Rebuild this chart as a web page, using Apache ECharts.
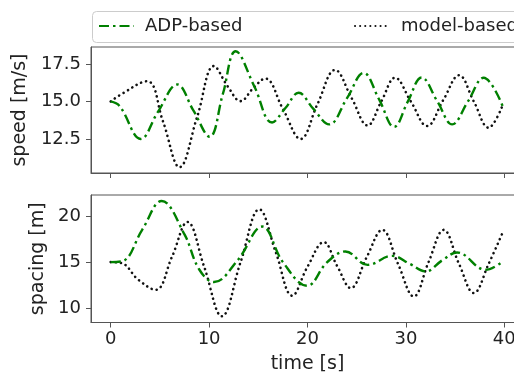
<!DOCTYPE html>
<html>
<head>
<meta charset="utf-8">
<script src="https://cdn.jsdelivr.net/npm/echarts@6/dist/echarts.min.js"></script>
<style>
html,body{margin:0;padding:0;background:#fff;}
#chart{width:514px;height:377px;}
</style>
</head>
<body>
<div id="chart"></div>
<script>
// ---- data ----
const xTicks = [0, 10, 20, 30, 40];
const speedTicks = [12.5, 15, 17.5];
const spacingTicks = [10, 15, 20];

const adpSpeedT = [0, 0.9, 3.05, 4.8, 6.77, 8.4, 10.05, 11.4, 12.7, 14.6, 16.4, 17.8, 19.1, 20.6, 22.2, 24.0, 25.7, 27.3, 28.8, 30.2, 31.6, 33.2, 34.7, 36.3, 37.9, 39.9];
const adpSpeedV = [15.0, 14.7, 12.5, 14.3, 16.13, 14.4, 12.65, 15.5, 18.35, 16.0, 13.6, 14.6, 15.58, 14.5, 13.47, 15.2, 16.9, 15.1, 13.3, 15.0, 16.6, 15.0, 13.47, 15.0, 16.58, 14.58];

const modelSpeedT = [0, 1.0, 3.7, 5.3, 7.0, 8.8, 10.5, 11.9, 13.2, 14.5, 15.7, 17.5, 19.3, 21.0, 22.8, 24.5, 26.1, 27.5, 28.9, 30.5, 32.15, 33.8, 35.4, 36.9, 38.4, 39.8];
const modelSpeedV = [15.0, 15.45, 16.35, 13.7, 10.62, 14.0, 17.36, 16.0, 15.02, 15.9, 16.53, 14.5, 12.5, 14.8, 17.1, 15.2, 13.4, 15.0, 16.58, 15.0, 13.36, 15.1, 16.75, 15.0, 13.25, 14.7];

const adpSpacingT = [0, 1.2, 3.2, 5.18, 7.5, 9.0, 10.5, 12.9, 15.4, 17.5, 19.97, 22.0, 23.85, 26.1, 28.6, 30.4, 32.0, 33.7, 35.2, 38.1, 39.85];
const adpSpacingV = [15.0, 15.1, 18.5, 21.62, 18.0, 14.2, 12.84, 15.2, 18.85, 15.0, 12.44, 15.0, 16.15, 14.7, 15.68, 14.8, 13.99, 15.2, 16.04, 14.17, 15.07];

const modelSpacingT = [0, 1.1, 2.8, 4.57, 6.2, 7.8, 9.5, 11.3, 13.2, 15.1, 16.8, 18.45, 20.0, 21.65, 23.0, 24.4, 26.0, 27.6, 29.2, 30.8, 32.3, 33.84, 35.4, 36.9, 38.4, 39.87];
const modelSpacingV = [15.0, 14.9, 13.1, 12.0, 15.5, 19.35, 14.5, 9.13, 15.0, 20.72, 16.0, 11.36, 14.5, 17.16, 14.6, 12.19, 15.5, 18.49, 14.8, 11.28, 15.0, 18.49, 14.8, 11.65, 14.8, 18.3];

const pairs = (t, v) => t.map((x, i) => [x, v[i]]);

const FONT = 'DejaVu Sans';
const frameColor = '#555';
const textColor = '#222';

const greenStyle = { color: '#008000', width: 2.4, type: [10, 4, 2.5, 4], cap: 'butt' };
const blackStyle = { color: '#111', width: 2.6, type: [0.1, 5], cap: 'round' };

function xAxis(gridIndex, withLabels) {
  return {
    type: 'value', gridIndex, min: -2, max: 42,
    axisLine: { show: true, onZero: false, lineStyle: { color: frameColor, width: 1 } },
    axisTick: { show: true, length: 5, customValues: xTicks, lineStyle: { color: frameColor } },
    axisLabel: withLabels ? { show: true, customValues: xTicks, margin: 8, fontSize: 18, color: textColor, fontFamily: FONT } : { show: false },
    splitLine: { show: false },
    name: withLabels ? 'time [s]' : '',
    nameLocation: 'middle', nameGap: 32,
    nameTextStyle: { fontSize: 19, color: textColor, fontFamily: FONT }
  };
}
function yAxis(gridIndex, min, max, ticks, name, gap, fmt) {
  return {
    type: 'value', gridIndex, min, max,
    axisLine: { show: true, onZero: false, lineStyle: { color: frameColor, width: 1 } },
    axisTick: { show: true, length: 5, customValues: ticks, lineStyle: { color: frameColor } },
    axisLabel: { customValues: ticks, margin: 10, fontSize: 18, color: textColor, fontFamily: FONT, formatter: fmt },
    splitLine: { show: false },
    name, nameLocation: 'middle', nameRotate: 90, nameGap: gap,
    nameTextStyle: { fontSize: 19, color: textColor, fontFamily: FONT }
  };
}
function legend(name, left) {
  return {
    data: [name], left, top: 17, padding: 0,
    itemWidth: 35, itemHeight: 18,
    itemStyle: { color: 'rgba(0,0,0,0)', borderColor: 'rgba(0,0,0,0)', borderWidth: 0 },
    textStyle: { fontSize: 18, color: textColor, fontFamily: FONT, padding: [0, 0, 0, 6] },
    selectedMode: false, z: 5
  };
}

const chart = echarts.init(document.getElementById('chart'), null, { renderer: 'canvas' });
chart.setOption({
  backgroundColor: '#fff',
  animation: false,
  graphic: [{
    type: 'rect', left: 92, top: 11, z: 1,
    shape: { width: 440, height: 31, r: 4 },
    style: { fill: '#fff', stroke: '#ccc', lineWidth: 1 }
  }],
  legend: [legend('ADP-based', 98), legend('model-based', 354)],
  grid: [
    { left: 91, top: 47, width: 433, height: 126, show: true, borderColor: frameColor, borderWidth: 1, containLabel: false, outerBoundsMode: 'none' },
    { left: 91, top: 195, width: 433, height: 127.5, show: true, borderColor: frameColor, borderWidth: 1, containLabel: false, outerBoundsMode: 'none' }
  ],
  xAxis: [xAxis(0, false), xAxis(1, true)],
  yAxis: [
    yAxis(0, 10.23, 18.63, speedTicks, 'speed [m/s]', 59, v => v.toFixed(1)),
    yAxis(1, 8.46, 22.27, spacingTicks, 'spacing [m]', 39, v => String(v))
  ],
  series: [
    { name: 'ADP-based', type: 'line', xAxisIndex: 0, yAxisIndex: 0, data: pairs(adpSpeedT, adpSpeedV), smooth: 0.4, symbol: 'none', lineStyle: greenStyle, itemStyle: { color: '#008000' }, z: 3 },
    { name: 'model-based', type: 'line', xAxisIndex: 0, yAxisIndex: 0, data: pairs(modelSpeedT, modelSpeedV), smooth: 0.4, symbol: 'none', lineStyle: blackStyle, itemStyle: { color: '#111' }, z: 2 },
    { name: 'ADP-based', type: 'line', xAxisIndex: 1, yAxisIndex: 1, data: pairs(adpSpacingT, adpSpacingV), smooth: 0.4, symbol: 'none', lineStyle: greenStyle, itemStyle: { color: '#008000' }, z: 3 },
    { name: 'model-based', type: 'line', xAxisIndex: 1, yAxisIndex: 1, data: pairs(modelSpacingT, modelSpacingV), smooth: 0.4, symbol: 'none', lineStyle: blackStyle, itemStyle: { color: '#111' }, z: 2 }
  ]
});
</script>
</body>
</html>
